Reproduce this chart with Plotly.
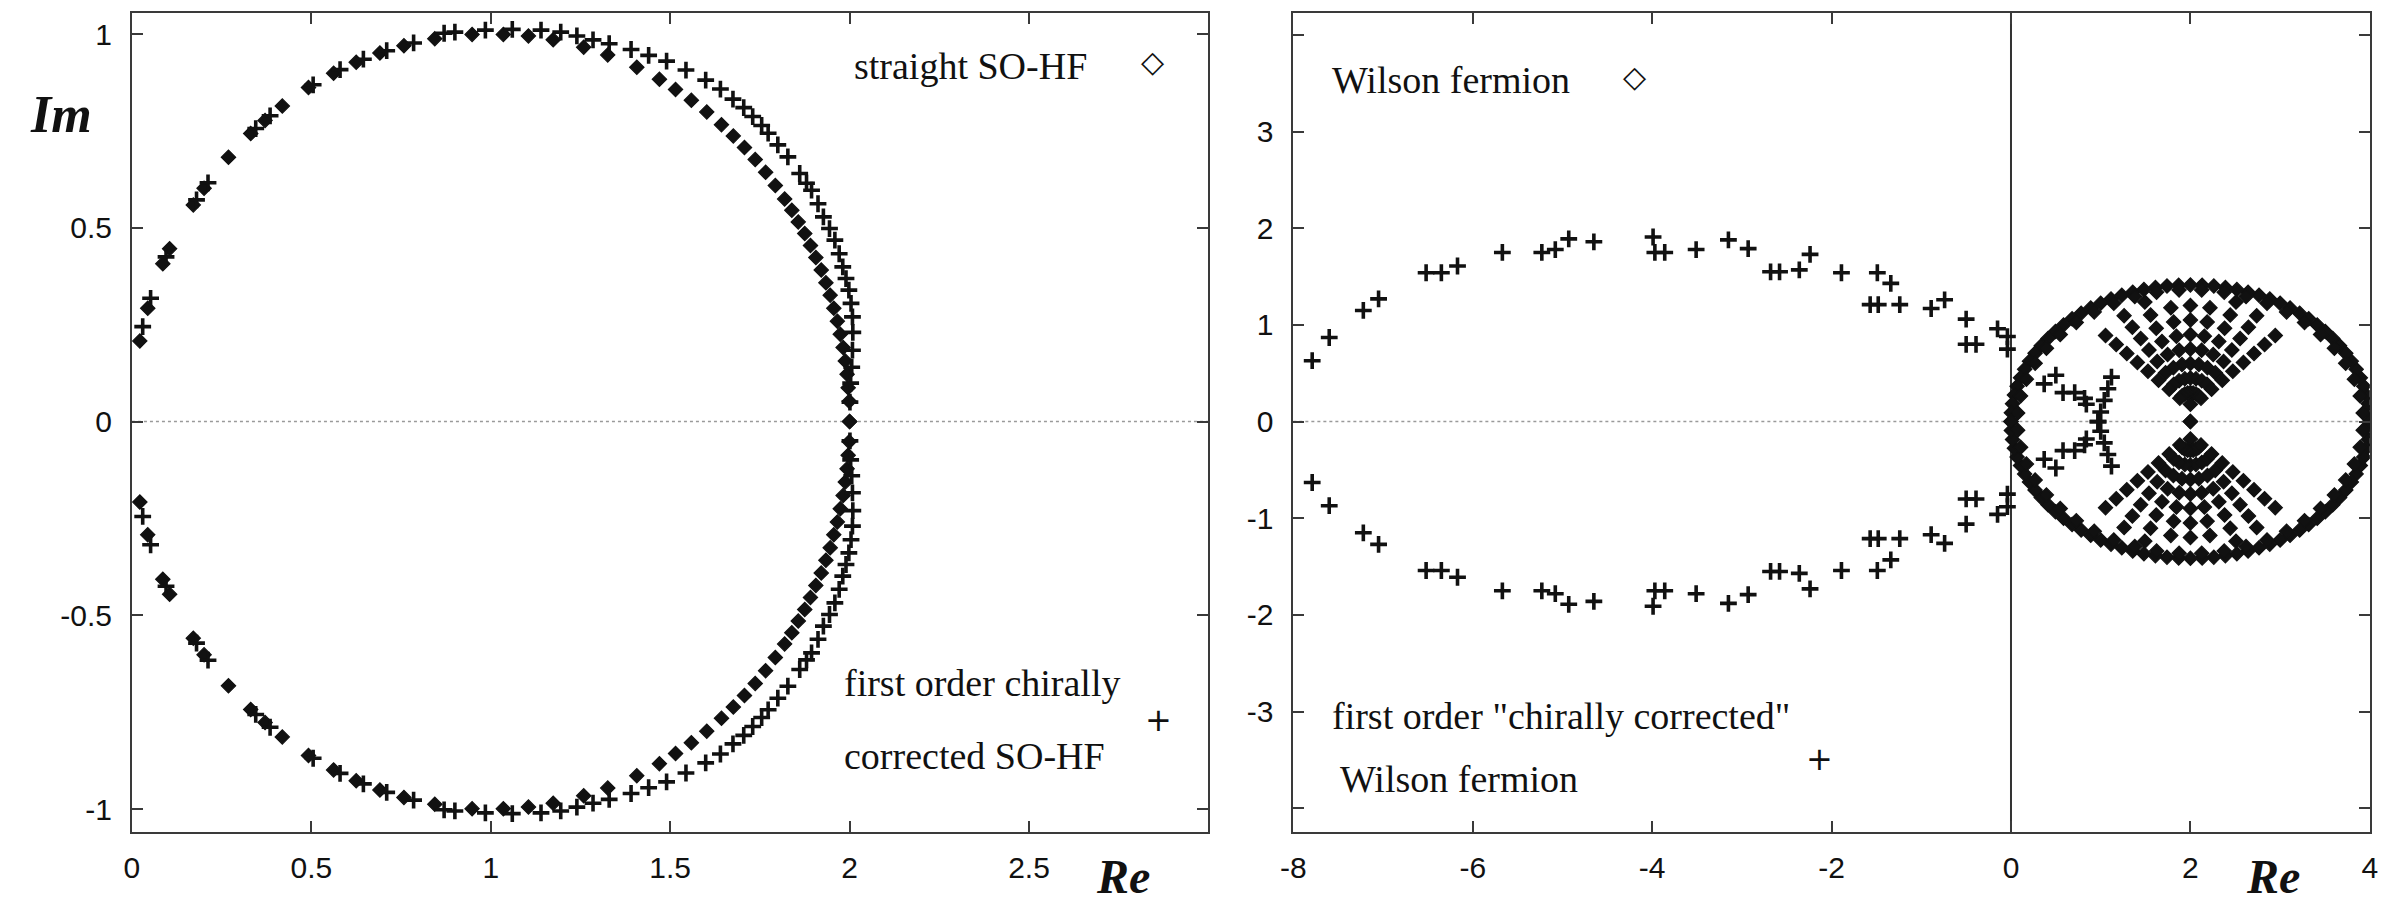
import plotly.graph_objects as go

W, H = 2391, 907

# ---------------- left panel: SO-HF spectra (upper half-plane; spectrum is conjugation symmetric)
sohf_straight_re = [0.022, 0.044, 0.086, 0.105, 0.171, 0.201, 0.269, 0.331, 0.371, 0.419,
                    0.492, 0.562, 0.625, 0.691, 0.758, 0.844, 0.948, 1.035, 1.105, 1.174,
                    1.259, 1.326, 1.407, 1.470, 1.515, 1.559, 1.602, 1.643, 1.676, 1.707,
                    1.737, 1.766, 1.793, 1.819, 1.839, 1.857, 1.875, 1.891, 1.906, 1.921,
                    1.934, 1.946, 1.956, 1.966, 1.974, 1.982, 1.988, 1.993, 1.996, 1.999, 2.0]
sohf_straight_im = [0.208, 0.292, 0.407, 0.446, 0.559, 0.602, 0.682, 0.743, 0.777, 0.814,
                    0.862, 0.899, 0.927, 0.951, 0.970, 0.988, 0.999, 0.999, 0.995, 0.985,
                    0.966, 0.946, 0.914, 0.883, 0.857, 0.829, 0.799, 0.766, 0.737, 0.707,
                    0.676, 0.643, 0.609, 0.574, 0.545, 0.515, 0.485, 0.454, 0.423, 0.391,
                    0.358, 0.326, 0.292, 0.259, 0.225, 0.191, 0.156, 0.122, 0.087, 0.052, 0.0]

sohf_corr_re = [0.030, 0.052, 0.095, 0.180, 0.212, 0.345, 0.385, 0.505, 0.580, 0.645,
                0.710, 0.785, 0.870, 0.900, 0.985, 1.060, 1.140, 1.195, 1.240, 1.285,
                1.330, 1.391, 1.440, 1.490, 1.544, 1.599, 1.640, 1.675, 1.705, 1.730,
                1.755, 1.773, 1.800, 1.828, 1.861, 1.880, 1.894, 1.912, 1.927, 1.944,
                1.959, 1.971, 1.981, 1.990, 1.998, 2.004, 2.008, 2.009, 2.008, 2.006,
                2.003, 2.001]
sohf_corr_im = [0.245, 0.318, 0.425, 0.572, 0.616, 0.756, 0.789, 0.869, 0.908, 0.935,
                0.957, 0.977, 1.002, 1.005, 1.010, 1.012, 1.010, 1.005, 0.995, 0.985,
                0.975, 0.960, 0.945, 0.930, 0.907, 0.881, 0.858, 0.832, 0.810, 0.787,
                0.764, 0.744, 0.714, 0.683, 0.640, 0.615, 0.597, 0.562, 0.528, 0.498,
                0.468, 0.433, 0.399, 0.369, 0.339, 0.305, 0.270, 0.230, 0.184, 0.140,
                0.099, 0.050]

# ---------------- right panel: Wilson fermion spectra (upper half-plane)
wilson_re = [
    # outer boundary
    4.000, 3.996, 3.983, 3.962, 3.932, 3.894, 3.848, 3.794, 3.732, 3.663, 3.587, 3.504, 3.414,
    3.319, 3.218, 3.111, 3.000, 2.885, 2.765, 2.643, 2.518, 2.390, 2.261, 2.131, 2.000, 1.869,
    1.739, 1.610, 1.482, 1.357, 1.235, 1.115, 1.000, 0.889, 0.782, 0.681, 0.586, 0.496, 0.413,
    0.337, 0.268, 0.206, 0.152, 0.106, 0.068, 0.038, 0.017, 0.004, 0.000,
    # second row of the boundary
    3.926, 3.893, 3.828, 3.731, 3.605, 3.451, 3.272, 3.072, 2.854, 2.620, 2.377, 2.126,
    1.874, 1.623, 1.380, 1.146, 0.928, 0.728, 0.549, 0.395, 0.269, 0.172, 0.107, 0.074,
    # Re = 2 column
    2.0, 2.0, 2.0, 2.0, 2.0, 2.0, 2.0, 2.0, 2.0,
    # fan, right side
    2.031, 2.062, 2.094, 2.125, 2.156, 2.187, 2.218,
    2.063, 2.127, 2.190, 2.254, 2.317, 2.381, 2.444, 2.508,
    2.092, 2.185, 2.277, 2.370, 2.462, 2.554, 2.647, 2.739,
    2.118, 2.236, 2.355, 2.473, 2.591, 2.709, 2.827, 2.946,
    # fan, left side
    1.969, 1.938, 1.906, 1.875, 1.844, 1.813, 1.782,
    1.937, 1.873, 1.810, 1.746, 1.683, 1.619, 1.556, 1.492,
    1.908, 1.815, 1.723, 1.630, 1.538, 1.446, 1.353, 1.261,
    1.882, 1.764, 1.645, 1.527, 1.409, 1.291, 1.173, 1.054,
]
wilson_im = [
    0.000, 0.092, 0.185, 0.276, 0.366, 0.454, 0.541, 0.625, 0.707, 0.786, 0.861, 0.932, 1.000,
    1.063, 1.122, 1.176, 1.225, 1.268, 1.306, 1.339, 1.366, 1.387, 1.402, 1.411, 1.414, 1.411,
    1.402, 1.387, 1.366, 1.339, 1.306, 1.268, 1.225, 1.176, 1.122, 1.063, 1.000, 0.932, 0.861,
    0.786, 0.707, 0.625, 0.541, 0.454, 0.366, 0.276, 0.185, 0.092, 0.000,
    0.089, 0.266, 0.439, 0.604, 0.758, 0.900, 1.026, 1.135, 1.224, 1.293, 1.339, 1.362,
    1.362, 1.339, 1.293, 1.224, 1.135, 1.026, 0.900, 0.758, 0.604, 0.439, 0.266, 0.089,
    0.0, 0.18, 0.30, 0.45, 0.60, 0.75, 0.90, 1.05, 1.20,
    0.297, 0.443, 0.590, 0.737, 0.884, 1.030, 1.177,
    0.286, 0.422, 0.558, 0.694, 0.830, 0.966, 1.102, 1.237,
    0.268, 0.386, 0.505, 0.623, 0.741, 0.859, 0.977, 1.096,
    0.242, 0.335, 0.427, 0.520, 0.612, 0.705, 0.797, 0.890,
    0.297, 0.443, 0.590, 0.737, 0.884, 1.030, 1.177,
    0.286, 0.422, 0.558, 0.694, 0.830, 0.966, 1.102, 1.237,
    0.268, 0.386, 0.505, 0.623, 0.741, 0.859, 0.977, 1.096,
    0.242, 0.335, 0.427, 0.520, 0.612, 0.705, 0.797, 0.890,
]

wilson_corr_re = [-7.79, -7.60, -7.22, -7.05, -6.52, -6.35, -6.17, -5.67, -5.23, -5.08,
                  -4.93, -4.65, -3.99, -3.97, -3.86, -3.51, -3.15, -2.93, -2.68, -2.58,
                  -2.36, -2.24, -1.89, -1.57, -1.49, -1.48, -1.34, -1.24, -0.89, -0.74,
                  -0.50, -0.50, -0.39, -0.15, -0.04, -0.04, 0.37, 0.50, 0.58, 0.71,
                  0.82, 0.84, 0.97, 1.00, 1.04, 1.08, 1.12]
wilson_corr_im = [0.63, 0.87, 1.15, 1.27, 1.54, 1.54, 1.61, 1.75, 1.75, 1.78,
                  1.89, 1.86, 1.91, 1.75, 1.75, 1.78, 1.88, 1.79, 1.55, 1.55,
                  1.57, 1.73, 1.54, 1.21, 1.54, 1.21, 1.43, 1.21, 1.17, 1.26,
                  1.06, 0.80, 0.80, 0.96, 0.88, 0.75, 0.39, 0.48, 0.30, 0.30,
                  0.24, 0.18, 0.00, 0.10, 0.22, 0.34, 0.46]

left_xticks = [0, 0.5, 1, 1.5, 2, 2.5, 3]
left_xticklabels = ["0", "0.5", "1", "1.5", "2", "2.5", ""]
left_yticks = [-1, -0.5, 0, 0.5, 1]
left_yticklabels = ["-1", "-0.5", "0", "0.5", "1"]
right_xticks = [-8, -6, -4, -2, 0, 2, 4]
right_xticklabels = ["-8", "-6", "-4", "-2", "0", "2", "4"]
right_yticks = [-4, -3, -2, -1, 0, 1, 2, 3, 4]
right_yticklabels = ["", "-3", "-2", "-1", "0", "1", "2", "3", ""]


def with_conjugates(re, im):
    """eigenvalues come in complex-conjugate pairs"""
    return list(re) + list(re), list(im) + [-v for v in im]


INK = "#111111"
diamond = dict(symbol="diamond", size=11, color=INK, line=dict(color=INK, width=1.2))
plus = dict(symbol="cross-thin-open", size=12, color=INK, line=dict(color=INK, width=3.6))

fig = go.Figure()
for (re, im, mk, xa, ya, nm) in [
    (sohf_straight_re, sohf_straight_im, diamond, "x", "y", "straight SO-HF"),
    (sohf_corr_re, sohf_corr_im, plus, "x", "y", "first order chirally corrected SO-HF"),
    (wilson_re, wilson_im, diamond, "x2", "y2", "Wilson fermion"),
    (wilson_corr_re, wilson_corr_im, plus, "x2", "y2", "first order chirally corrected Wilson fermion"),
]:
    xs, ys = with_conjugates(re, im)
    fig.add_trace(go.Scatter(x=xs, y=ys, mode="markers", marker=mk, xaxis=xa, yaxis=ya,
                             name=nm, showlegend=False, cliponaxis=True))

axis_common = dict(showline=True, linecolor="#3a3a3a", linewidth=2, mirror="allticks",
                   ticks="inside", ticklen=11, tickwidth=2, tickcolor="#3a3a3a",
                   showgrid=False, zeroline=False,
                   tickfont=dict(family="Liberation Sans, Arial, sans-serif", size=30, color=INK))

ydom = [1 - 831.5 / H, 1 - 12.7 / H]
fig.update_layout(
    width=W, height=H, margin=dict(l=0, r=0, t=0, b=0),
    paper_bgcolor="white", plot_bgcolor="white", showlegend=False,
    xaxis=dict(domain=[120 / W, 1206 / W], range=[0, 3], anchor="y",
               tickvals=left_xticks, ticktext=left_xticklabels, ticklabelstandoff=8, **axis_common),
    yaxis=dict(domain=ydom, range=[-1.058, 1.055], anchor="x",
               tickvals=left_yticks, ticktext=left_yticklabels, ticklabelstandoff=12, **axis_common),
    xaxis2=dict(domain=[1291.7 / W, 2377.7 / W], range=[-8, 4], anchor="y2",
                tickvals=right_xticks, ticktext=right_xticklabels, ticklabelstandoff=8, **axis_common),
    yaxis2=dict(domain=ydom, range=[-4.24, 4.23], anchor="x2",
                tickvals=right_yticks, ticktext=right_yticklabels, ticklabelstandoff=12, **axis_common),
)

fig.add_shape(type="line", xref="x domain", yref="y", x0=0, x1=1, y0=0, y1=0, layer="below",
              line=dict(color="#9a9a9a", width=1.5, dash="dot"))
fig.add_shape(type="line", xref="x2 domain", yref="y2", x0=0, x1=1, y0=0, y1=0, layer="below",
              line=dict(color="#9a9a9a", width=1.5, dash="dot"))
fig.add_shape(type="line", xref="x2", yref="y2 domain", x0=0, x1=0, y0=0, y1=1, layer="below",
              line=dict(color="#333333", width=2))

SERIF = "Liberation Serif, Times New Roman, serif"


def txt(s, px, py, size, anchor="left", family=SERIF):
    fig.add_annotation(text=s, x=px / W, y=1 - py / H, xref="paper", yref="paper",
                       xanchor=anchor, yanchor="middle", showarrow=False, borderpad=0,
                       font=dict(family=family, size=size, color=INK))


txt("<b><i>Im</i></b>", 48, 114, 52, "center")
txt("<b><i>Re</i></b>", 1120, 876, 48, "center")
txt("<b><i>Re</i></b>", 2280, 876, 48, "center")

txt("straight SO-HF", 847, 66, 38)
txt("◇", 1150, 61, 30, "center", "DejaVu Sans")
txt("first order chirally", 837, 683, 38)
txt("corrected SO-HF", 837, 756, 38)
txt("+", 1156, 720, 32, "center", "DejaVu Sans")

txt("Wilson fermion", 1330, 80, 38)
txt("◇", 1636, 76, 30, "center", "DejaVu Sans")
txt("first order \"chirally corrected\"", 1330, 716, 38)
txt("Wilson fermion", 1338, 779, 38)
txt("+", 1823, 759, 32, "center", "DejaVu Sans")

fig.write_html("out.html")
